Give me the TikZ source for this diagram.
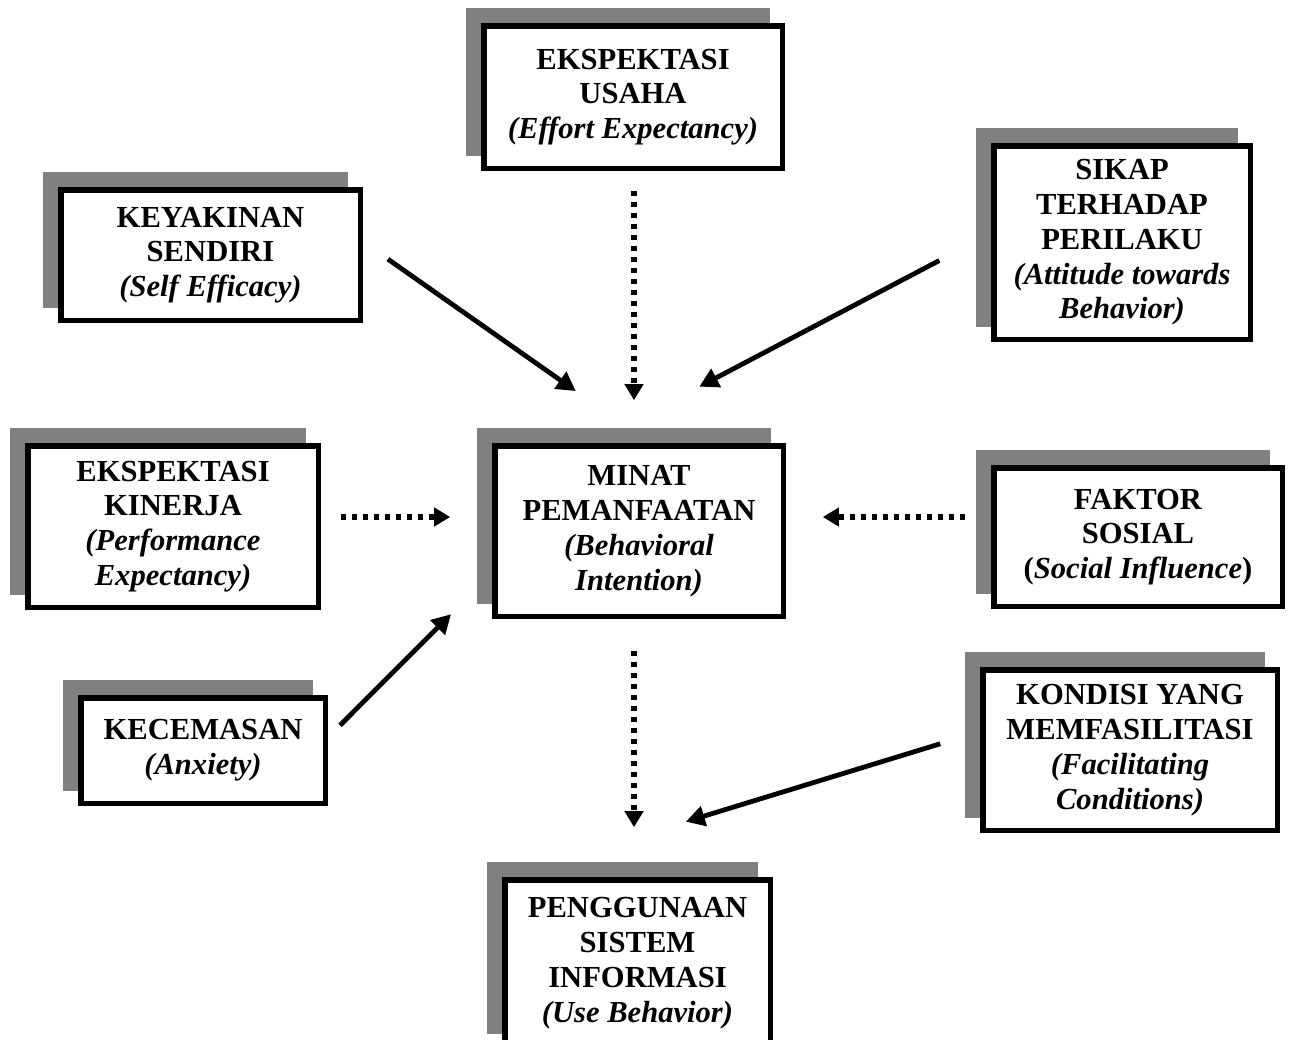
\documentclass[tikz,border=0pt]{standalone}
\usepackage{fontspec}
\setmainfont{Liberation Serif}
\usepackage{tikz}
\usetikzlibrary{arrows.meta,shadows}
\definecolor{shadowgray}{RGB}{128,128,128}

\begin{document}
\begin{tikzpicture}[x=0.5pt, y=-0.5pt,
  box/.style={draw, line width=2.75pt, fill=white, align=center, inner sep=0pt,
    font=\fontsize{15.3}{17.4}\selectfont\bfseries,
    drop shadow={shadow xshift=-7.75pt, shadow yshift=7.75pt, opacity=1,
      fill=shadowgray, draw=shadowgray, line width=2.75pt}},
  solidarrow/.style={line width=2.4pt, -{Triangle[length=9.5pt,width=10pt]}},
  dotarrow/.style={line width=2.6pt, dash pattern=on 2.6pt off 2.9pt, -{Triangle[length=8pt,width=9pt]}}]
  \useasboundingbox (0,0) rectangle (1293,1039);
  \node[box, minimum width=149.25pt, minimum height=71.25pt] (usaha) at (633,97)
    {EKSPEKTASI\\USAHA\\\textit{(Effort Expectancy)}};
  \node[box, minimum width=149.75pt, minimum height=65.25pt] (sendiri) at (210.5,255)
    {KEYAKINAN\\SENDIRI\\\textit{(Self Efficacy)}};
  \node[box, minimum width=128.25pt, minimum height=96.75pt] (sikap) at (1122,242.5)
    {SIKAP\\TERHADAP\\PERILAKU\\\textit{(Attitude towards}\\\textit{Behavior)}};
  \node[box, minimum width=145.25pt, minimum height=80.75pt] (kinerja) at (173,526.5)
    {EKSPEKTASI\\KINERJA\\\textit{(Performance}\\\textit{Expectancy)}};
  \node[box, minimum width=144.25pt, minimum height=85.25pt] (minat) at (639,531)
    {MINAT\\PEMANFAATAN\\\textit{(Behavioral}\\\textit{Intention)}};
  \node[box, minimum width=144.25pt, minimum height=69.25pt] (sosial) at (1138,537)
    {FAKTOR\\SOSIAL\\(\textit{Social Influence})};
  \node[box, minimum width=122.25pt, minimum height=52.75pt] (cemas) at (203,750.5)
    {KECEMASAN\\\textit{(Anxiety)}};
  \node[box, minimum width=147.25pt, minimum height=80.25pt] (fasilitas) at (1130,750)
    {KONDISI YANG\\MEMFASILITASI\\\textit{(Facilitating}\\\textit{Conditions)}};
  \node[box, minimum width=132.75pt, minimum height=83.25pt] (guna) at (637.5,963)
    {PENGGUNAAN\\SISTEM\\INFORMASI\\\textit{(Use Behavior)}};
  \path[dotarrow]
  ([xshift=0.5pt]usaha.south) edge[shorten <=9.9pt, shorten >=21.4pt] ([xshift=-2.5pt]minat.north)
  ([yshift=4.75pt]kinerja.east) edge[shorten <=9.9pt, shorten >=20.9pt] ([yshift=7pt]minat.west)
  ([yshift=10pt]sosial.west) edge[shorten <=12.9pt, shorten >=18.4pt] ([yshift=7pt]minat.east)
  ([xshift=-2.5pt]minat.south) edge[shorten <=15.9pt, shorten >=24.9pt] ([xshift=-1.75pt]guna.north)
  ;
  \path[solidarrow]
  (sendiri.5) edge[shorten <=15.2pt, shorten >=45.2pt] (minat.83)
  (sikap.176) edge[shorten <=29.2pt, shorten >=60.5pt] (minat.118)
  (cemas.6) edge[shorten <=8.5pt, shorten >=29pt] (minat.196)
  (fasilitas.173) edge[shorten <=20.8pt, shorten >=94.5pt] (guna.147)
  ;
\end{tikzpicture}
\end{document}
